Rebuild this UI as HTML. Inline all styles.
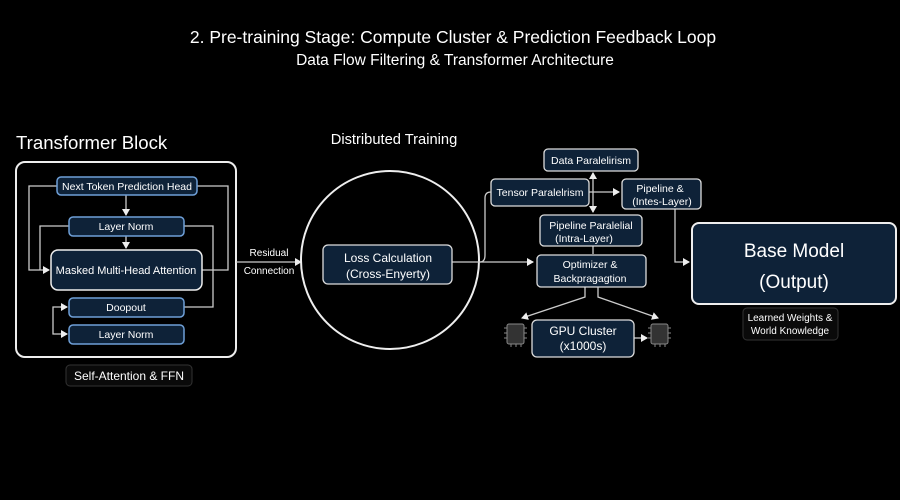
<!DOCTYPE html>
<html><head><meta charset="utf-8"><style>
html,body{margin:0;padding:0;background:#000;width:900px;height:500px;overflow:hidden}
svg{display:block}
text{font-family:"Liberation Sans",sans-serif;fill:#fff}
</style></head><body>
<svg width="900" height="500" viewBox="0 0 900 500">
<defs><marker id="a" markerWidth="8" markerHeight="8" refX="6" refY="4" orient="auto" markerUnits="userSpaceOnUse"><path d="M0,0 L7,4 L0,8 z" fill="#eee"/></marker></defs>
<rect width="900" height="500" fill="#000"/>
<text x="453" y="43" font-size="17.5" text-anchor="middle">2. Pre-training Stage: Compute Cluster &amp; Prediction Feedback Loop</text>
<text x="455" y="65" font-size="15.5" text-anchor="middle">Data Flow Filtering &amp; Transformer Architecture</text>

<text x="16" y="149" font-size="18.6">Transformer Block</text>
<rect x="16" y="162" width="220" height="195" rx="9" fill="none" stroke="#eee" stroke-width="2"/>
<g fill="none" stroke="#ccc" stroke-width="1.3">
<path d="M57,186 H29 V270 H49" marker-end="url(#a)"/>
<path d="M197,186 H228 V270 H202"/>
<path d="M69,226 H40 V270"/>
<path d="M184,226 H213 V307 H184"/>
<path d="M126,195 V215" marker-end="url(#a)"/>
<path d="M126,236 V248" marker-end="url(#a)"/>
<path d="M67,307 H53 V334 H67" marker-end="url(#a)"/>
<path d="M60,307 H67" marker-end="url(#a)"/>
<path d="M236,262 H301" marker-end="url(#a)"/>
</g>
<rect x="57" y="177" width="140" height="18" rx="4" fill="#0e2238" stroke="#6fa0d8" stroke-width="1.5"/>
<text x="127" y="190" font-size="10.5" text-anchor="middle">Next Token Prediction Head</text>
<rect x="69" y="217" width="115" height="19" rx="4" fill="#0e2238" stroke="#6fa0d8" stroke-width="1.5"/>
<text x="126" y="230" font-size="10.5" text-anchor="middle">Layer Norm</text>
<rect x="51" y="250" width="151" height="40" rx="7" fill="#0e2238" stroke="#eee" stroke-width="1.5"/>
<text x="126" y="274" font-size="11" text-anchor="middle">Masked Multi-Head Attention</text>
<rect x="69" y="298" width="115" height="19" rx="4" fill="#0e2238" stroke="#6fa0d8" stroke-width="1.5"/>
<text x="126" y="311" font-size="10.5" text-anchor="middle">Doopout</text>
<rect x="69" y="325" width="115" height="19" rx="4" fill="#0e2238" stroke="#6fa0d8" stroke-width="1.5"/>
<text x="126" y="338" font-size="10.5" text-anchor="middle">Layer Norm</text>
<rect x="66" y="365" width="126" height="21" rx="4" fill="#0a0a0a" stroke="#333"/>
<text x="129" y="380" font-size="12" text-anchor="middle">Self-Attention &amp; FFN</text>
<text x="269" y="256" font-size="10" text-anchor="middle">Residual</text>
<text x="269" y="274" font-size="10" text-anchor="middle">Connection</text>

<text x="394" y="144" font-size="14.7" text-anchor="middle">Distributed Training</text>
<circle cx="390" cy="260" r="89" fill="none" stroke="#eee" stroke-width="2"/>
<g fill="none" stroke="#ccc" stroke-width="1.3">
<path d="M452,262 H533" marker-end="url(#a)"/>
<path d="M480,262 Q485,262 485,255 V198 Q485,192 491,192"/>
<path d="M593,180 V173" marker-end="url(#a)"/>
<path d="M593,180 V212" marker-end="url(#a)"/>
<path d="M589,192 H619" marker-end="url(#a)"/>
<path d="M675,209 V262 H689" marker-end="url(#a)"/>
<path d="M593,246 V254"/>
<path d="M585,287 V297 L522,318" marker-end="url(#a)"/>
<path d="M598,287 V297 L658,318" marker-end="url(#a)"/>
<path d="M634,338 H647" marker-end="url(#a)"/>
</g>
<rect x="323" y="245" width="129" height="39" rx="5" fill="#0e2238" stroke="#ddd" stroke-width="1.3"/>
<text x="388" y="262" font-size="12" text-anchor="middle">Loss Calculation</text>
<text x="388" y="278" font-size="12" text-anchor="middle">(Cross-Enyerty)</text>

<g fill="#0e2238" stroke="#ddd" stroke-width="1.3">
<rect x="544" y="149" width="94" height="22" rx="4"/>
<rect x="491" y="179" width="98" height="27" rx="4"/>
<rect x="622" y="179" width="79" height="30" rx="4"/>
<rect x="540" y="215" width="102" height="31" rx="4"/>
<rect x="537" y="255" width="109" height="32" rx="4"/>
<rect x="532" y="320" width="102" height="37" rx="5"/>
</g>
<g font-size="10.5" text-anchor="middle">
<text x="591" y="164">Data Paralelirism</text>
<text x="540" y="196">Tensor Paralelrism</text>
<text x="660" y="192">Pipeline &amp;</text>
<text x="662" y="205">(Intes-Layer)</text>
<text x="591" y="229">Pipeline Paralelial</text>
<text x="584" y="242">(Intra-Layer)</text>
<text x="590" y="268">Optimizer &amp;</text>
<text x="590" y="282">Backpragagtion</text>
</g>
<text x="583" y="335" font-size="12" text-anchor="middle">GPU Cluster</text>
<text x="583" y="350" font-size="12" text-anchor="middle">(x1000s)</text>
<g stroke="#888" stroke-width="1">
<rect x="507" y="324" width="17" height="20" rx="2" fill="#333"/>
<path d="M504,328h3M504,333h3M504,338h3M524,328h3M524,333h3M524,338h3M511,344v3M516,344v3M521,344v3"/>
<rect x="651" y="324" width="17" height="20" rx="2" fill="#333"/>
<path d="M648,328h3M648,333h3M648,338h3M668,328h3M668,333h3M668,338h3M655,344v3M660,344v3M665,344v3"/>
</g>

<rect x="692" y="223" width="204" height="81" rx="7" fill="#0e2238" stroke="#eee" stroke-width="2"/>
<text x="794" y="257" font-size="19" text-anchor="middle">Base Model</text>
<text x="794" y="288" font-size="19" text-anchor="middle">(Output)</text>
<rect x="743" y="308" width="95" height="32" rx="4" fill="#0a0a0a" stroke="#333"/>
<text x="790" y="321" font-size="10" text-anchor="middle">Learned Weights &amp;</text>
<text x="790" y="334" font-size="10" text-anchor="middle">World Knowledge</text>
</svg>
</body></html>
